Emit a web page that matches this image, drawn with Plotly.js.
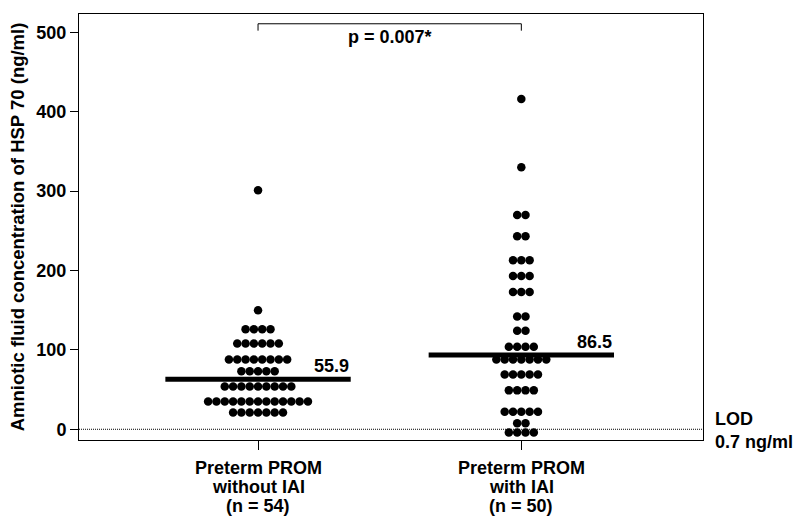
<!DOCTYPE html>
<html>
<head>
<meta charset="utf-8">
<script src="https://cdn.plot.ly/plotly-3.0.1.min.js"></script>
<style>
  html, body { margin: 0; padding: 0; background: #fff; }
  #chart { width: 800px; height: 522px; }
</style>
</head>
<body>
<div id="chart"></div>
<script>
"use strict";

// group labels on the x axis, one list entry per text line
const groups = [
    ["Preterm PROM", "without IAI", "(n = 54)"],
    ["Preterm PROM", "with IAI", "(n = 50)"]
];

// HSP 70 values (ng/ml), one per patient
const withoutIAI = [
    301,
    150,
    126, 126, 126, 126,
    108, 108, 108, 108, 108, 108,
    88, 88, 88, 88, 88, 88, 88, 88,
    73, 73, 73, 73, 73,
    54, 54, 54, 54, 54, 54, 54, 54, 54,
    35, 35, 35, 35, 35, 35, 35, 35, 35, 35, 35, 35, 35,
    21, 21, 21, 21, 21, 21, 21
];
const withIAI = [
    416,
    330,
    270, 270,
    243, 243,
    213, 213, 213,
    193, 193, 193,
    173, 173, 173,
    142, 142,
    124, 124,
    104, 104, 104, 104,
    88, 88, 88, 88, 88, 88, 88,
    69, 69, 69, 69, 69,
    49, 49, 49, 49,
    22, 22, 22, 22, 22,
    7.5, 7.5,
    -4, -4, -4, -4
];

// median bars (drawn level) and their printed values
const medianLevel = [63, 93.5];
const medianText = ["55.9", "86.5"];

const pText = "p = 0.007*";
const lodText = "LOD<br>0.7 ng/ml";

const FONT = "Liberation Sans, Arial, Helvetica, sans-serif";
const DOT_STEP = 0.0316;   // horizontal spacing of dots in a row (x units)
const HALF_BAR = 0.352;    // half width of median bar

// spread equal values side by side, centred on the group position
function swarm(values, centre) {
    let counts = {};
    values.forEach(v => { counts[v] = (counts[v] || 0) + 1; });
    let seen = {};
    let xs = [], ys = [];
    values.forEach(v => {
        let n = counts[v];
        let i = seen[v] || 0;
        seen[v] = i + 1;
        xs.push(centre + (i - (n - 1) / 2) * DOT_STEP);
        ys.push(v);
    });
    return [xs, ys];
}

function main() {
    let traces = [];
    [withoutIAI, withIAI].forEach((vals, g) => {
        let [xs, ys] = swarm(vals, g + 1);
        traces.push({
            x: xs, y: ys,
            type: "scatter", mode: "markers",
            marker: { color: "#000", size: 8.5 },
            hoverinfo: "y", showlegend: false
        });
    });

    medianLevel.forEach((m, g) => {
        traces.push({
            x: [g + 1 - HALF_BAR, g + 1 + HALF_BAR], y: [m, m],
            type: "scatter", mode: "lines",
            line: { color: "#000", width: 5 },
            hoverinfo: "skip", showlegend: false
        });
    });

    // significance bracket between the two groups
    traces.push({
        x: [1, 1, 2, 2], y: [502, 510.7, 510.7, 502],
        type: "scatter", mode: "lines",
        line: { color: "#000", width: 1 },
        hoverinfo: "skip", showlegend: false
    });

    let annotations = medianText.map((t, g) => ({
        x: g + 1 + HALF_BAR, y: medianLevel[g],
        xref: "x", yref: "y",
        text: "<b>" + t + "</b>",
        showarrow: false, xanchor: "right", yanchor: "bottom",
        yshift: 1,
        font: { family: FONT, size: 18, color: "#000" }
    }));
    annotations.push({
        x: 1.5, y: 510.7, xref: "x", yref: "y",
        text: "<b>" + pText + "</b>",
        showarrow: false, xanchor: "center", yanchor: "top",
        yshift: -1,
        font: { family: FONT, size: 18, color: "#000" }
    });
    annotations.push({
        x: 1, y: 0, xref: "paper", yref: "y",
        text: "<b>" + lodText + "</b>",
        showarrow: false, xanchor: "left", yanchor: "middle", align: "left",
        xshift: 10, yshift: -1,
        font: { family: FONT, size: 18, color: "#000" }
    });
    // category labels, line by line so the spacing is tight like the original
    groups.forEach((lines, g) => {
        lines.forEach((txt, i) => {
            annotations.push({
                x: g + 1, y: 0, xref: "x", yref: "paper",
                text: "<b>" + txt + "</b>",
                showarrow: false, xanchor: "center", yanchor: "middle",
                yshift: -(28 + i * 19),
                font: { family: FONT, size: 18, color: "#000" }
            });
        });
    });

    let layout = {
        width: 800, height: 522,
        margin: { l: 79, r: 97, t: 14, b: 82 },
        paper_bgcolor: "#fff", plot_bgcolor: "#fff",
        font: { family: FONT, color: "#000" },
        showlegend: false,
        xaxis: {
            range: [0.32, 2.69],
            tickvals: [1, 2], showticklabels: false,
            ticks: "outside", ticklen: 9, tickcolor: "#000",
            showgrid: false, zeroline: false,
            showline: true, linecolor: "#000", linewidth: 1, mirror: true
        },
        yaxis: {
            range: [-13.5, 523],
            tickvals: [0, 100, 200, 300, 400, 500],
            ticktext: ["<b>0</b>", "<b>100</b>", "<b>200</b>", "<b>300</b>", "<b>400</b>", "<b>500</b>"],
            ticks: "outside", ticklen: 8, tickcolor: "#000",
            tickfont: { family: FONT, size: 18, color: "#000" },
            showgrid: false, zeroline: false,
            showline: true, linecolor: "#000", linewidth: 1, mirror: true,
            title: {
                text: "<b>Amniotic fluid concentration of HSP 70 (ng/ml)</b>",
                font: { family: FONT, size: 18.5, color: "#000" },
                standoff: 6
            }
        },
        shapes: [{
            type: "line", xref: "paper", yref: "y",
            x0: 0, x1: 1, y0: 0, y1: 0,
            line: { color: "#000", width: 1, dash: "1px,1px" }
        }],
        annotations: annotations
    };

    Plotly.newPlot("chart", traces, layout, { staticPlot: true, displayModeBar: false });
}

document.addEventListener("DOMContentLoaded", event => main());
</script>
</body>
</html>
